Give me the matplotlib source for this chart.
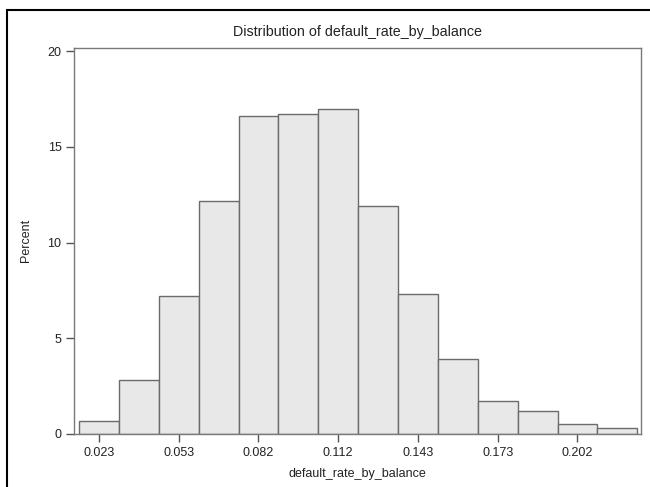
import matplotlib
matplotlib.use("Agg")
import matplotlib.pyplot as plt
from matplotlib.patches import Rectangle

plt.rcParams['font.family'] = ['Liberation Sans', 'DejaVu Sans']

# histogram bins (midpoints) and percent per bin
bin_width = 0.015
midpoints = [0.0225 + i * bin_width for i in range(14)]
percent = [0.7, 2.8, 7.2, 12.2, 16.6, 16.7, 17.0, 11.9, 7.3, 3.9, 1.7, 1.22, 0.5, 0.33]

tick_pos = midpoints[::2]
tick_labels = ['0.023', '0.053', '0.082', '0.112', '0.143', '0.173', '0.202']
y_ticks = [0, 5, 10, 15, 20]

W, H = 650, 487
fig = plt.figure(figsize=(6.5, 4.87), dpi=100)
ax = fig.add_axes([74 / W, (H - 434) / H, (641 - 74) / W, (434 - 47.5) / H])

ax.bar(midpoints, percent, width=bin_width, color='#e8e8e8',
       edgecolor='#6b6b6b', linewidth=1.0, zorder=2)

ax.set_xlim(0.01312, 0.2264)
ax.set_ylim(0, 20.2)
ax.set_xticks(tick_pos)
ax.set_xticklabels(tick_labels)
ax.set_yticks(y_ticks)

for s in ax.spines.values():
    s.set_color('#7a7a7a')
    s.set_linewidth(1.0)
ax.tick_params(axis='both', direction='out', length=6, width=1,
               color='#555555', labelsize=9, labelcolor='#222222', pad=3)

ax.set_xlabel('default_rate_by_balance', fontsize=9, color='#222222', labelpad=7)
ax.set_ylabel('Percent', fontsize=9, color='#222222', labelpad=11)
ax.set_title('Distribution of default_rate_by_balance', fontsize=10.3,
             color='#222222', pad=8)

# outer frame, cut off at the right and bottom of the image
fig.patches.append(Rectangle((7 / W, -0.1), 1.2, (H - 10) / H + 0.1,
                             transform=fig.transFigure, fill=False,
                             edgecolor='black', linewidth=1.5))

fig.savefig('out.png', dpi=100)
